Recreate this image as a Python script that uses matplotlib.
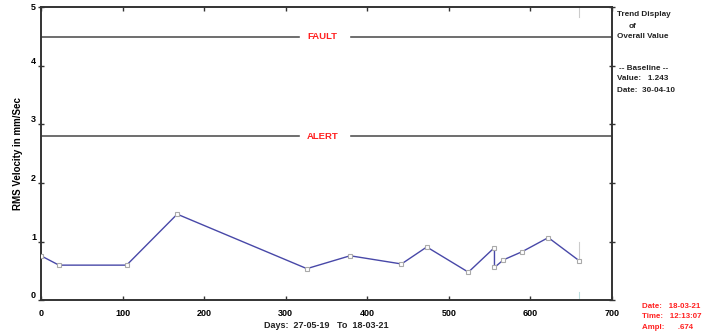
import matplotlib
matplotlib.use("Agg")
import matplotlib.pyplot as plt

days = [0, 22, 105, 167, 326, 379, 442, 473, 524, 556, 556, 567, 590, 622, 660]
rms = [0.76, 0.60, 0.60, 1.47, 0.54, 0.76, 0.62, 0.91, 0.48, 0.90, 0.56, 0.69, 0.83, 1.07, 0.674]
fault_level = 4.5
alert_level = 2.8
cursor_day = 660
x_ticks = [0, 100, 200, 300, 400, 500, 600, 700]
y_ticks = [0, 1, 2, 3, 4, 5]

plt.rcParams['font.family'] = ['Liberation Sans', 'DejaVu Sans']
plt.rcParams['font.weight'] = 'bold'

fig = plt.figure(figsize=(7.04, 3.35), dpi=100)
ax = fig.add_axes([0.0582, 0.1036, 0.811, 0.8746])
ax.set_xlim(0, 700)
ax.set_ylim(0, 5)

# threshold lines
for lvl, name in [(fault_level, 'FAULT'), (alert_level, 'ALERT')]:
    ax.axhline(lvl, color='#555555', lw=1.2, zorder=1)
    ax.fill_between([318, 378], lvl - 0.05, lvl + 0.05, color='white', zorder=1.5)
    ax.text(345, lvl, name, color='#ff2020', fontsize=6.8, fontweight='bold',
            ha='center', va='center', zorder=2)

# cursor line (faint)
ax.plot([cursor_day, cursor_day], [4.83, 5], color='#cccccc', lw=0.8, zorder=1)
ax.plot([cursor_day, cursor_day], [0.67, 1.0], color='#cccccc', lw=0.8, zorder=1)
ax.plot([cursor_day, cursor_day], [0, 0.15], color='#bbdddd', lw=0.8, zorder=1)

ax.plot(days, rms, color='#4848a8', lw=1.0, marker='s', markersize=3.2,
        markerfacecolor='white', markeredgecolor='#aaaaaa', markeredgewidth=0.8, zorder=3)

for s in ax.spines.values():
    s.set_color('#333333')
    s.set_linewidth(1.4)

ax.set_xticks(x_ticks)
ax.set_xticklabels([str(t) for t in x_ticks], fontsize=6.5, fontweight='bold')
ax.set_yticks(y_ticks)
ax.set_yticklabels([str(t) for t in y_ticks], fontsize=6.5, fontweight='bold', va='bottom')
ax.get_yticklabels()[-1].set_va('center')
ax.tick_params(axis='x', direction='in', length=3, width=1, color='#333333', top=True, pad=6)
ax.tick_params(axis='y', direction='inout', length=5, width=1, color='#333333', right=True, pad=1)
ax.set_ylabel('RMS Velocity in mm/Sec', fontsize=7, fontweight='bold', labelpad=6)

fig.text(0.5 * (41 + 612) / 704, 1 - 326 / 335, 'Days:  27-05-19   To  18-03-21',
         fontsize=6.5, fontweight='bold', ha='center', va='center', color='#222222')

for txt, y, x in [('Trend Display', 15, 617), ('of', 26, 629), ('Overall Value', 36, 617),
                  ('-- Baseline --', 69, 619), ('Value:   1.243', 79, 617), ('Date:  30-04-10', 90, 617)]:
    fig.text(x / 704, 1 - y / 335, txt, fontsize=5.9, fontweight='bold', ha='left', va='center', color='#222222')

for txt, y in [('Date:   18-03-21', 307), ('Time:   12:13:07', 317), ('Ampl:      .674', 327.5)]:
    fig.text(642 / 704, 1 - y / 335, txt, fontsize=5.7, fontweight='bold', ha='left', va='center', color='#ff2020')

fig.savefig('out.png', dpi=100)
